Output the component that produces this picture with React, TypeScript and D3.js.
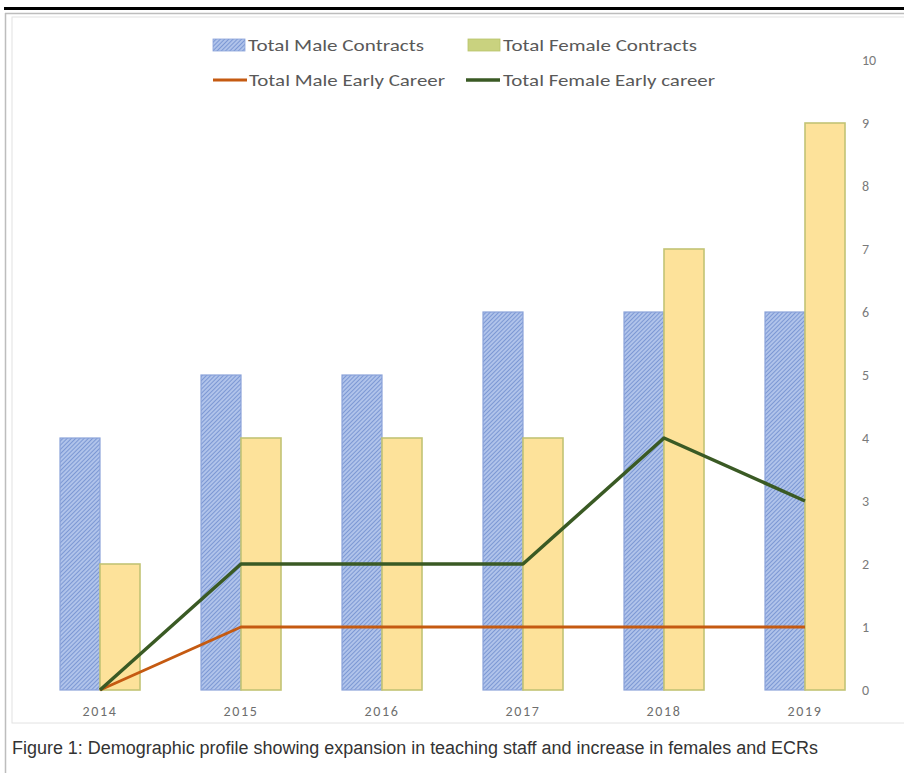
import React from "react";
import * as d3 from "d3";

const years = ["2014", "2015", "2016", "2017", "2018", "2019"];
const maleContracts = [4, 5, 5, 6, 6, 6];
const femaleContracts = [2, 4, 4, 4, 7, 9];
const maleEarlyCareer = [0, 1, 1, 1, 1, 1];
const femaleEarlyCareer = [0, 2, 2, 2, 4, 3];
const yTicks = [0, 1, 2, 3, 4, 5, 6, 7, 8, 9, 10];
const caption =
  "Figure 1: Demographic profile showing expansion in teaching staff and increase in females and ECRs";

const W = 904;
const H = 773;

export default function App() {
  const x = d3.scaleBand<string>().domain(years).range([29.5, 875.5]).padding(0);
  const y = d3.scaleLinear().domain([0, 10]).range([690, 60]);
  const barW = 40;
  const cx = (yr: string) => (x(yr) as number) + x.bandwidth() / 2;

  const line = d3
    .line<number>()
    .x((_, i) => cx(years[i]))
    .y((v) => y(v));

  const labelFont = "Carlito, Calibri, 'Liberation Sans Narrow', 'Open Sans', sans-serif";

  return (
    <div style={{ position: "absolute", left: 0, top: 0, width: W, height: H, background: "#fff" }}>
      <svg width={W} height={H} style={{ display: "block" }}>
        <defs>
          <pattern id="hatch" width="3" height="3" patternUnits="userSpaceOnUse" patternTransform="rotate(45)">
            <rect width="3" height="3" fill="#b0c3ea" />
            <line x1="0" y1="0" x2="0" y2="3" stroke="#5f80c9" strokeWidth="1.3" />
          </pattern>
          <filter id="soft" x="-10%" y="-10%" width="120%" height="120%">
            <feGaussianBlur stdDeviation="0.5" />
          </filter>
        </defs>

        {/* page frame */}
        <rect x={4} y={7} width={W} height={3} fill="#000" />
        <line x1={5} y1={13.5} x2={W} y2={13.5} stroke="#bdbdbd" strokeWidth={1.5} />
        <line x1={5.5} y1={13} x2={5.5} y2={H} stroke="#bdbdbd" strokeWidth={1.5} />
        <rect x={12} y={17} width={W} height={706} fill="none" stroke="#e2e2e2" strokeWidth={1} />

        {/* bars */}
        <g filter="url(#soft)">
          {years.map((yr, i) => (
            <g key={yr}>
              <rect
                x={cx(yr) - barW}
                y={y(maleContracts[i])}
                width={barW}
                height={y(0) - y(maleContracts[i])}
                fill="url(#hatch)"
                stroke="#8aa2d9"
                strokeWidth={1.2}
              />
              <rect
                x={cx(yr)}
                y={y(femaleContracts[i])}
                width={barW}
                height={y(0) - y(femaleContracts[i])}
                fill="#fde29a"
                stroke="#c2c474"
                strokeWidth={1.6}
              />
            </g>
          ))}
        </g>

        {/* lines */}
        <path d={line(maleEarlyCareer) ?? ""} fill="none" stroke="#c55a11" strokeWidth={3} strokeLinejoin="round" />
        <path d={line(femaleEarlyCareer) ?? ""} fill="none" stroke="#3a5a24" strokeWidth={3.5} strokeLinejoin="round" />

        {/* x axis labels */}
        {years.map((yr) => (
          <text
            key={yr}
            x={cx(yr)}
            y={716}
            textAnchor="middle"
            fontFamily={labelFont}
            fontSize={14}
            letterSpacing={1.6}
            fill="#6e6e6e"
          >
            {yr}
          </text>
        ))}

        {/* y axis labels (right side) */}
        {yTicks.map((t) => (
          <text
            key={t}
            x={862}
            y={y(t) + 5}
            fontFamily={labelFont}
            fontSize={14}
            fill="#7a7a7a"
          >
            {t}
          </text>
        ))}

        {/* legend */}
        <g fontFamily={labelFont} fontSize={17} fill="#595959">
          <rect x={213} y={39} width={32} height={12} fill="url(#hatch)" stroke="#8aa2d9" strokeWidth={0.8} />
          <text x={248} y={51} textLength={176} lengthAdjust="spacingAndGlyphs">Total Male Contracts</text>
          <rect x={468} y={39} width={32} height={12} fill="#c9d27f" stroke="#b8c36a" strokeWidth={0.8} />
          <text x={503} y={51} textLength={194} lengthAdjust="spacingAndGlyphs">Total Female Contracts</text>

          <line x1={213} y1={80} x2={247} y2={80} stroke="#c55a11" strokeWidth={3} />
          <text x={249} y={86} textLength={196} lengthAdjust="spacingAndGlyphs">Total Male Early Career</text>
          <line x1={466} y1={80} x2={500} y2={80} stroke="#3a5a24" strokeWidth={3.5} />
          <text x={503} y={86} textLength={212} lengthAdjust="spacingAndGlyphs">Total Female Early career</text>
        </g>

        {/* caption */}
        <text
          x={12}
          y={754}
          fontFamily="'Liberation Sans Narrow', 'Liberation Sans', Arial, sans-serif"
          fontSize={18}
          fill="#333"
          textLength={806}
          lengthAdjust="spacingAndGlyphs"
        >
          {caption}
        </text>
      </svg>
    </div>
  );
}
